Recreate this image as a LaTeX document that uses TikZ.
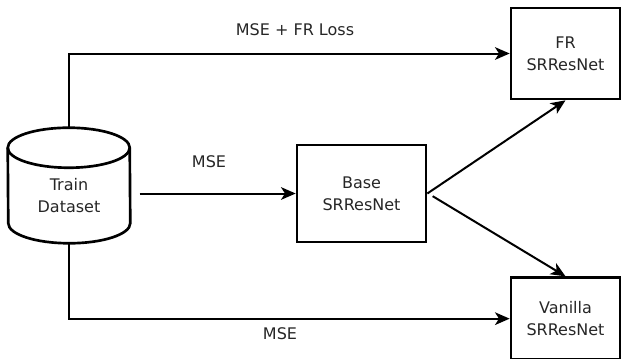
\documentclass[tikz,border=0pt]{standalone}
\usepackage{fontspec}
\setmainfont{DejaVu Sans}
\usetikzlibrary{positioning, arrows.meta, calc}

\begin{document}
\begin{tikzpicture}[
    x=0.75pt, y=0.75pt,
    font=\fontsize{12}{16.5}\selectfont,
    every node/.style={text=black!85},
    box/.style={rectangle, draw=black, line width=2pt, align=center, text=black!85},
    store/.style={rectangle, minimum width=91.5pt, minimum height=86.25pt},
    line/.style={draw, line width=1.5pt, -{Stealth[length=11pt, width=9.5pt, inset=3pt]}}
    ]
    \useasboundingbox (0,0) rectangle (621,358);

    % Nodes
    \node (train) [store] at (69,172.5) {};
    \node (trainlbl) [align=center] at (69,162) {Train\\Dataset};
    \node (base) [box, minimum width=96.75pt, minimum height=72.75pt] at (361.5,164.5) {Base\\SRResNet};
    \node (fr) [box, minimum width=81.75pt, minimum height=68.25pt] at (565.5,304.5) {FR\\SRResNet};
    \node (vanilla) [box, minimum width=81.75pt, minimum height=61.5pt, below=132pt of fr.south, anchor=north] {Vanilla\\SRResNet};

    % Dataset drum
    \draw [line width=2pt] ($(train.north west)+(0,-20)$)
        arc[start angle=180, end angle=0, x radius=45.75pt, y radius=15pt]
        -- ($(train.south east)+(0,20)$)
        arc[start angle=0, end angle=-180, x radius=45.75pt, y radius=15pt]
        -- cycle;
    \draw [line width=2pt] ($(train.north west)+(0,-20)$)
        arc[start angle=180, end angle=360, x radius=45.75pt, y radius=15pt];

    % Labels
    \node (frloss) at (295,328) {MSE + FR Loss};
    \node (basemse) at (209,196) {MSE};
    \node (vanmse) at (280,24) {MSE};

    % Arrows
    \draw [line] (train.north) |- (fr.west);
    \draw [line] ([xshift=7]train.east |- base.west) -- (base.west);
    \draw [line] (train.south) |- (vanilla.west);
    \draw [line] (base.east) -- (fr.south);
    \draw [line] ([xshift=4,yshift=-2]base.east) -- (vanilla.north);
\end{tikzpicture}
\end{document}
